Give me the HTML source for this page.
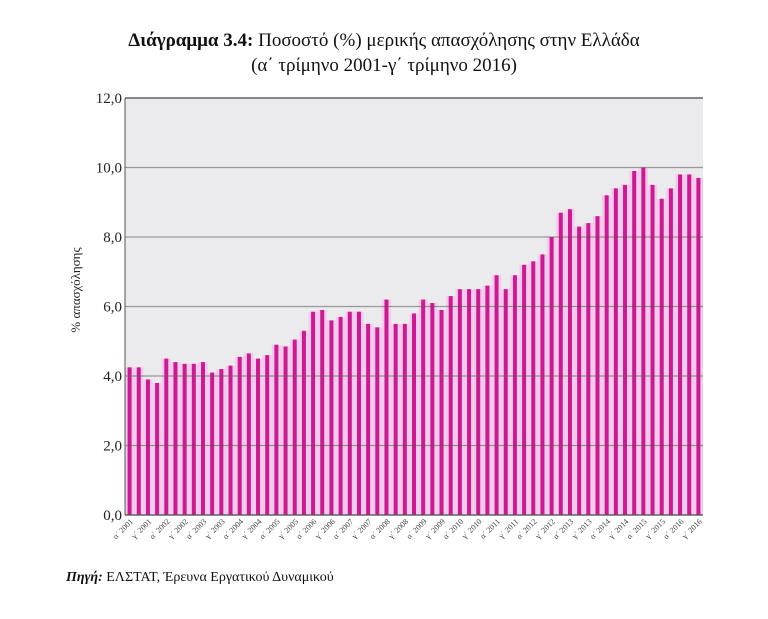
<!DOCTYPE html>
<html><head><meta charset="utf-8"><style>
body{margin:0;background:#fff;width:768px;height:614px;overflow:hidden;font-family:"Liberation Serif","DejaVu Serif",serif;}
</style></head><body>
<svg width="768" height="614" xmlns="http://www.w3.org/2000/svg" font-family="Liberation Serif, DejaVu Serif, serif">
<text x="384" y="46" text-anchor="middle" font-size="19" fill="#111"><tspan font-weight="bold">Διάγραμμα 3.4:</tspan> Ποσοστό (%) μερικής απασχόλησης στην Ελλάδα</text>
<text x="384" y="71" text-anchor="middle" font-size="19" fill="#111">(α΄ τρίμηνο 2001-γ΄ τρίμηνο 2016)</text>
<rect x="125" y="98" width="578" height="417" fill="#ebebed"/>
<g id="bars"></g>
<g id="grid"></g>
<g id="ylab" font-size="15" fill="#222" text-anchor="end"></g>
<g id="xlab" font-size="8" fill="#444"></g>
<text transform="translate(80,290) rotate(-90)" text-anchor="middle" font-size="13" fill="#222">% απασχόλησης</text>
<text x="66" y="581" font-size="14" fill="#111"><tspan font-weight="bold" font-style="italic">Πηγή:</tspan> ΕΛΣΤΑΤ, Έρευνα Εργατικού Δυναμικού</text>
</svg>
<script>
var v=[4.25,4.25,3.9,3.8,4.5,4.4,4.35,4.35,4.4,4.1,4.2,4.3,4.55,4.65,4.5,4.6,4.9,4.85,5.05,5.3,5.85,5.9,5.6,5.7,5.85,5.85,5.5,5.4,6.2,5.5,5.5,5.8,6.2,6.1,5.9,6.3,6.5,6.5,6.5,6.6,6.9,6.5,6.9,7.2,7.3,7.5,8.0,8.7,8.8,8.3,8.4,8.6,9.2,9.4,9.5,9.9,10.0,9.5,9.1,9.4,9.8,9.8,9.7];
var ns="http://www.w3.org/2000/svg",L=125,R=703,B=515,k=34.75,w=(R-L)/v.length;
function el(p,t,a,txt){var e=document.createElementNS(ns,t);for(var q in a)e.setAttribute(q,a[q]);if(txt)e.textContent=txt;document.getElementById(p).appendChild(e);}
for(var i=0;i<=6;i++){var y=B-i*2*k;el("grid","line",{x1:L,x2:R,y1:y,y2:y,stroke:"#555","stroke-width":1.3,"stroke-opacity":0.55});el("ylab","text",{x:L-3,y:y+5},(i*2).toFixed(1).replace(".",","));}
el("grid","line",{x1:L,x2:L,y1:98,y2:B,stroke:"#555","stroke-width":1});
el("grid","line",{x1:L,x2:R,y1:98,y2:98,stroke:"#555","stroke-width":1.3});
el("grid","line",{x1:L,x2:R,y1:B,y2:B,stroke:"#555","stroke-width":1.3});
v.forEach(function(d,i){var x=L+i*w,y=B-d*k;el("bars","rect",{x:x,y:y,width:w,height:B-y,fill:"#fbc6ef"});el("bars","rect",{x:x+w/2-2,y:y,width:4,height:B-y,fill:"#c2208c"});});
for(var j=0;j<32;j++){var i=j*2,x=L+i*w+w/2;var yr=2001+Math.floor(i/4);var q=(i%4==0)?"α΄":"γ΄";el("xlab","text",{transform:"translate("+(x+4)+",522) rotate(-45)","text-anchor":"end"},q+" "+yr);}
</script>
</body></html>
